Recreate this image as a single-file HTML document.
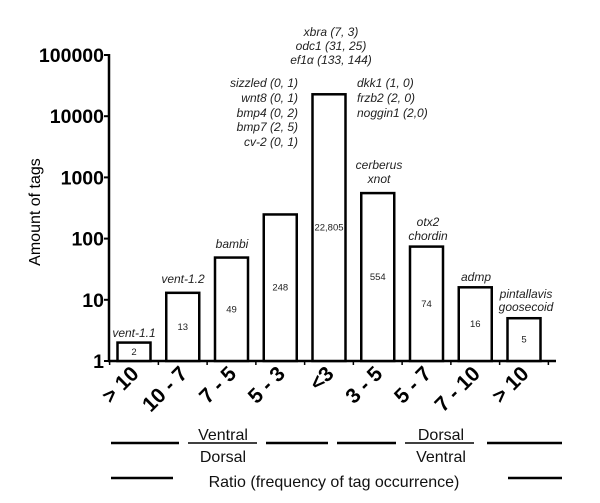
<!DOCTYPE html>
<html><head><meta charset="utf-8"><style>
html,body{margin:0;padding:0;background:#fff;}
svg{display:block;font-family:"Liberation Sans",Arial,sans-serif;}
</style></head><body>
<svg id="chart" width="600" height="503" viewBox="0 0 600 503" xmlns="http://www.w3.org/2000/svg">
<g id="axes"></g>
<g id="bars"></g>
<g id="annot" font-style="italic" font-size="12" fill="#222"></g>
<text x="40" y="212" transform="rotate(-90 40 212)" text-anchor="middle" font-size="16">Amount of tags</text>
<g stroke="#000" stroke-width="2.5">
<line x1="111" y1="443" x2="179" y2="443"/>
<line x1="188" y1="443" x2="257" y2="443" stroke-width="1.5"/>
<line x1="266" y1="443" x2="328" y2="443"/>
<line x1="337" y1="443" x2="396" y2="443"/>
<line x1="405" y1="443" x2="474" y2="443" stroke-width="1.5"/>
<line x1="487" y1="443" x2="562" y2="443"/>
<line x1="111" y1="478" x2="173" y2="478"/>
<line x1="508" y1="478" x2="562" y2="478"/>
</g>
<g font-size="16" text-anchor="middle" fill="#111">
<text x="223" y="440">Ventral</text>
<text x="223" y="462">Dorsal</text>
<text x="441" y="440">Dorsal</text>
<text x="441" y="462">Ventral</text>
<text x="334" y="487">Ratio (frequency of tag occurrence)</text>
</g>
</svg>
<script>
const categories = ["> 10","10 - 7","7 - 5","5 - 3","<3","3 - 5","5 - 7","7 - 10","> 10"];
const counts = [2,13,49,248,22805,554,74,16,5];
const countLabels = ["2","13","49","248","22,805","554","74","16","5"];
const yTicks = [1,10,100,1000,10000,100000];
const yTickLabels = ["1","10","100","1000","10000","100000"];

const NS="http://www.w3.org/2000/svg";
const X0=109, X1=556, BASE=361, DEC=61.2, FIRST=134, PITCH=48.75, BW=33;
function yScale(v){return BASE-Math.log10(v)*DEC;}
function xCenter(i){return FIRST+i*PITCH;}
function mk(tag,attrs,parent,text){const e=document.createElementNS(NS,tag);for(const k in attrs)e.setAttribute(k,attrs[k]);if(text!==undefined)e.textContent=text;parent.appendChild(e);return e;}

const axes=document.getElementById('axes');
let yl=mk('line',{x1:X0,y1:yScale(100000)-1,x2:X0,y2:BASE+1,stroke:'#000','stroke-width':2.5},axes);


let xl=mk('line',{x1:X0-1,y1:BASE,x2:X1,y2:BASE,stroke:'#000','stroke-width':2.5},axes);


yTicks.forEach((t,i)=>{
  const y=yScale(t);
  let tk=mk('line',{x1:X0-5,y1:y,x2:X0,y2:y,stroke:'#000','stroke-width':2},axes);
  
  
  let lb=mk('text',{x:X0-5,y:y+7,'text-anchor':'end','font-size':19.5,'font-weight':'bold'},axes,yTickLabels[i]);
  
  
});
for(let i=0;i<=categories.length;i++){
  const x=xCenter(i)-PITCH/2;
  let tk=mk('line',{x1:x,y1:BASE,x2:x,y2:BASE+4,stroke:'#000','stroke-width':1.5},axes);
  
  
}
categories.forEach((c,i)=>{
  const x=xCenter(i)+6, y=BASE+14;
  let lb=mk('text',{x:x,y:y,'text-anchor':'end','font-size':21,'font-weight':'bold',transform:`rotate(-45 ${x} ${y})`},axes,c);
  
  
});
const bars=document.getElementById('bars');
counts.forEach((v,i)=>{
  const top=yScale(v), cx=xCenter(i);
  let r=mk('rect',{x:cx-BW/2,y:top,width:BW,height:BASE-top,fill:'#fff',stroke:'#000','stroke-width':2.5},bars);
  
  
  let t=mk('text',{x:cx,y:(top+BASE)/2+3,'text-anchor':'middle','font-size':9.5,fill:'#222'},bars,countLabels[i]);
  
  
});
const an=document.getElementById('annot');
const notes=[
 [134,'middle',[[337,'vent-1.1']]],
 [183,'middle',[[283,'vent-1.2']]],
 [232,'middle',[[248,'bambi']]],
 [298,'end',[[87,'sizzled (0, 1)'],[102,'wnt8 (0, 1)'],[117,'bmp4 (0, 2)'],[131,'bmp7 (2, 5)'],[146,'cv-2 (0, 1)']]],
 [331,'middle',[[36,'xbra (7, 3)'],[50,'odc1 (31, 25)'],[64,'ef1\u03b1 (133, 144)']]],
 [357,'start',[[87,'dkk1 (1, 0)'],[102,'frzb2 (2, 0)'],[117,'noggin1 (2,0)']]],
 [379,'middle',[[169,'cerberus'],[183,'xnot']]],
 [428,'middle',[[226,'otx2'],[240,'chordin']]],
 [476,'middle',[[281,'admp']]],
 [526,'middle',[[298,'pintallavis'],[311,'goosecoid']]]
];
notes.forEach(([x,anc,lines])=>lines.forEach(([y,s])=>{
  let t=mk('text',{x:x,y:y,'text-anchor':anc},an,s);
  
  
}));
</script>
</body></html>
